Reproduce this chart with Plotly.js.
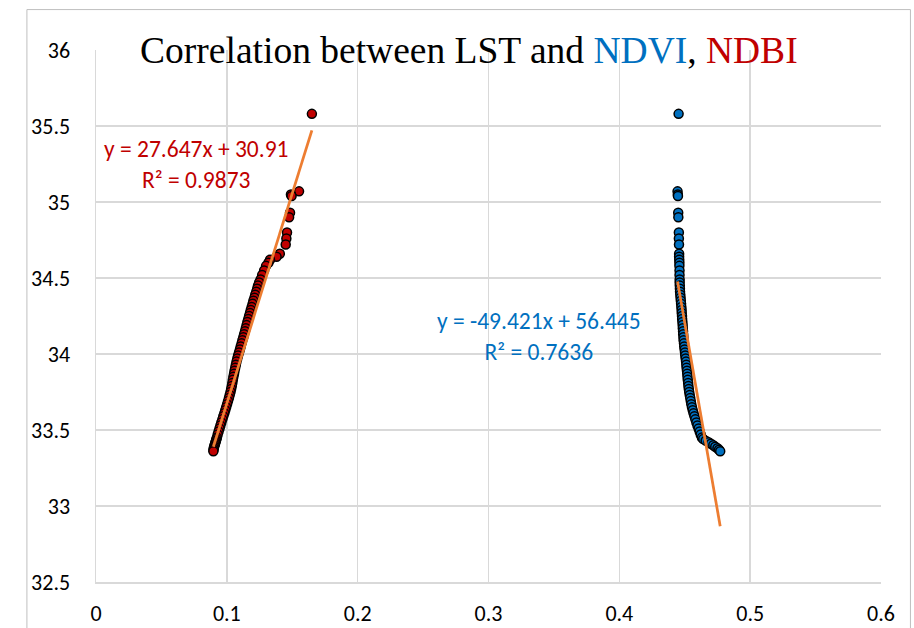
<!DOCTYPE html>
<html>
<head>
<meta charset="utf-8">
<script src="https://cdn.plot.ly/plotly-3.0.1.min.js"></script>
<style>
html,body{margin:0;padding:0;background:#fff;}
#chart{width:914px;height:628px;}
</style>
</head>
<body>
<div id="chart"></div>
<script>
// Land surface temperature (shared y values)
const lst = [35.58, 35.07, 35.05, 35.04, 34.93, 34.90, 34.80, 34.76, 34.72, 34.66,
  34.64, 34.62, 34.60, 34.58, 34.55, 34.52, 34.49,
  34.47, 34.45, 34.43, 34.41, 34.39, 34.37, 34.35, 34.33, 34.31, 34.29,
  34.27, 34.25, 34.23, 34.21, 34.19, 34.17, 34.15, 34.13, 34.11, 34.09,
  34.07, 34.05, 34.03, 34.01, 33.99, 33.97, 33.95, 33.93, 33.91, 33.89,
  33.87, 33.85, 33.83, 33.81, 33.79, 33.77, 33.75, 33.73, 33.71, 33.69,
  33.67, 33.65, 33.63, 33.61, 33.59, 33.57, 33.55, 33.53, 33.51, 33.49,
  33.47, 33.45, 33.44, 33.43, 33.42, 33.41, 33.40, 33.39, 33.38, 33.37, 33.36];
// NDBI (red series)
const ndbi = [0.1650, 0.1552, 0.1490, 0.1495, 0.1483, 0.1476, 0.1460, 0.1455, 0.1450, 0.1405,
  0.1380, 0.1330, 0.1318, 0.1300, 0.1285, 0.1270, 0.1258,
  0.1247, 0.1238, 0.1232, 0.1225, 0.1217, 0.1211, 0.1203, 0.1197, 0.1190, 0.1183,
  0.1177, 0.1170, 0.1164, 0.1157, 0.1151, 0.1145, 0.1139, 0.1132, 0.1126, 0.1119,
  0.1113, 0.1106, 0.1100, 0.1093, 0.1086, 0.1080, 0.1074, 0.1069, 0.1064, 0.1059,
  0.1055, 0.1050, 0.1046, 0.1042, 0.1038, 0.1033, 0.1028, 0.1022, 0.1016, 0.1009,
  0.1002, 0.0995, 0.0988, 0.0981, 0.0973, 0.0966, 0.0958, 0.0951, 0.0944, 0.0937,
  0.0930, 0.0924, 0.0920, 0.0917, 0.0913, 0.0910, 0.0906, 0.0903, 0.0900, 0.0898, 0.0897];
// NDVI (blue series)
const ndvi = [0.4453, 0.4445, 0.4447, 0.4448, 0.4450, 0.4451, 0.4455, 0.4455, 0.4456, 0.4457,
  0.4457, 0.4458, 0.4459, 0.4459, 0.4460, 0.4460, 0.4461,
  0.4461, 0.4462, 0.4463, 0.4464, 0.4466, 0.4468, 0.4470, 0.4472, 0.4474, 0.4476,
  0.4477, 0.4479, 0.4480, 0.4482, 0.4484, 0.4485, 0.4487, 0.4488, 0.4490, 0.4491,
  0.4494, 0.4496, 0.4499, 0.4502, 0.4504, 0.4507, 0.4510, 0.4512, 0.4514, 0.4517,
  0.4519, 0.4521, 0.4523, 0.4526, 0.4528, 0.4531, 0.4534, 0.4538, 0.4542, 0.4546,
  0.4550, 0.4555, 0.4561, 0.4567, 0.4574, 0.4581, 0.4589, 0.4597, 0.4606, 0.4614,
  0.4622, 0.4631, 0.4641, 0.4660, 0.4682, 0.4700, 0.4718, 0.4733, 0.4750, 0.4762, 0.4771];

// Linear trendline coefficients (Excel fit)
const ndbiFit = {slope: 27.647, intercept: 30.91, r2: 0.9873};
const ndviFit = {slope: -49.421, intercept: 56.445, r2: 0.7636};

const xTicks = [0, 0.1, 0.2, 0.3, 0.4, 0.5, 0.6];
const yTicks = [32.5, 33, 33.5, 34, 34.5, 35, 35.5, 36];

function fitLine(f, xs){
  const xr = [Math.min(...xs), Math.max(...xs)];
  return {x: xr, y: xr.map(v => f.slope*v + f.intercept)};
}
function eqText(f){
  const s = f.slope < 0 ? '-' + Math.abs(f.slope) : String(f.slope);
  return 'y = ' + s + 'x + ' + f.intercept + '<br>R² = ' + f.r2;
}

const RED = '#C00000', BLUE = '#0070C0', ORANGE = '#ED7D31';
const markerBase = {size: 9, line: {color: '#000', width: 1.5}};

const nl = fitLine(ndbiFit, ndbi), vl = fitLine(ndviFit, ndvi);
const data = [
  {x: ndbi, y: lst, type: 'scatter', mode: 'markers', name: 'NDBI',
   marker: Object.assign({color: RED}, markerBase)},
  {x: ndvi, y: lst, type: 'scatter', mode: 'markers', name: 'NDVI',
   marker: Object.assign({color: BLUE}, markerBase)},
  {x: nl.x, y: nl.y, type: 'scatter', mode: 'lines', line: {color: ORANGE, width: 2.75}},
  {x: vl.x, y: vl.y, type: 'scatter', mode: 'lines', line: {color: ORANGE, width: 2.75}}
];

const tickFont = {family: 'Carlito, Calibri, "Liberation Sans Narrow", sans-serif', size: 22, color: '#000'};
const labelFont = {family: 'Carlito, Calibri, "Open Sans", sans-serif', size: 23.5};

const layout = {
  width: 914, height: 628,
  margin: {l: 96, r: 33, t: 50, b: 46},
  paper_bgcolor: '#fff', plot_bgcolor: '#fff',
  showlegend: false,
  title: {
    text: 'Correlation between LST and <span style="color:' + BLUE + '">NDVI</span>, <span style="color:' + RED + '">NDBI</span>',
    font: {family: '"Liberation Serif", "Times New Roman", serif', size: 37.5, color: '#000'},
    x: 0.513, xanchor: 'center', y: 0.921, yanchor: 'middle', xref: 'container', yref: 'container'
  },
  xaxis: {
    range: [0, 0.6], tickvals: xTicks, ticktext: xTicks.map(String),
    showgrid: true, gridcolor: '#D9D9D9', gridwidth: 1.5,
    zeroline: false, showline: true, linecolor: '#D9D9D9', linewidth: 1.5,
    ticks: '', tickfont: tickFont, ticklabelstandoff: 11, fixedrange: true
  },
  yaxis: {
    range: [32.5, 36], tickvals: yTicks, ticktext: yTicks.map(String),
    showgrid: true, gridcolor: '#D9D9D9', gridwidth: 1.5,
    zeroline: false, showline: true, linecolor: '#D9D9D9', linewidth: 1.5,
    ticks: '', tickfont: tickFont, ticklabelstandoff: 20, fixedrange: true
  },
  annotations: [
    {xref: 'x', yref: 'y', x: 0.077, y: 35.25, text: eqText(ndbiFit), showarrow: false,
     font: Object.assign({color: RED}, labelFont), align: 'center', xanchor: 'center', yanchor: 'middle'},
    {xref: 'x', yref: 'y', x: 0.3385, y: 34.115, text: eqText(ndviFit), showarrow: false,
     font: Object.assign({color: BLUE}, labelFont), align: 'center', xanchor: 'center', yanchor: 'middle'}
  ],
  shapes: [
    {type: 'rect', xref: 'paper', yref: 'paper', x0: -0.088, x1: 1.0375, y0: -0.2, y1: 1.076,
     line: {color: '#BFBFBF', width: 1}, fillcolor: 'rgba(0,0,0,0)', layer: 'below'}
  ]
};

Plotly.newPlot('chart', data, layout, {displayModeBar: false, staticPlot: true});
</script>
</body>
</html>
